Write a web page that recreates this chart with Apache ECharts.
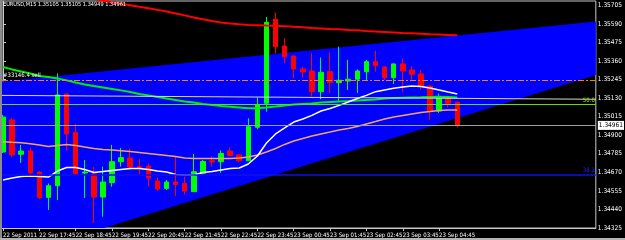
<!DOCTYPE html>
<html><head><meta charset="utf-8">
<style>html,body{margin:0;padding:0;background:#000;overflow:hidden}#c{width:625px;height:240px;}</style>
<script src="https://cdn.jsdelivr.net/npm/echarts@6/dist/echarts.min.js"></script>
</head><body><div id="c"></div><script>
const title = 'EURUSD,M15 1.35105 1.35105 1.34949 1.34961';
const barTimes = ['22 Sep 16:45','22 Sep 17:00','22 Sep 17:15','22 Sep 17:30','22 Sep 17:45','22 Sep 18:00','22 Sep 18:15','22 Sep 18:30','22 Sep 18:45','22 Sep 19:00','22 Sep 19:15','22 Sep 19:30','22 Sep 19:45','22 Sep 20:00','22 Sep 20:15','22 Sep 20:30','22 Sep 20:45','22 Sep 21:00','22 Sep 21:15','22 Sep 21:30','22 Sep 21:45','22 Sep 22:00','22 Sep 22:15','22 Sep 22:30','22 Sep 22:45','22 Sep 23:00','22 Sep 23:15','22 Sep 23:30','22 Sep 23:45','23 Sep 00:00','23 Sep 00:15','23 Sep 00:30','23 Sep 00:45','23 Sep 01:00','23 Sep 01:15','23 Sep 01:30','23 Sep 01:45','23 Sep 02:00','23 Sep 02:15','23 Sep 02:30','23 Sep 02:45','23 Sep 03:00','23 Sep 03:15','23 Sep 03:30','23 Sep 03:45','23 Sep 04:00','23 Sep 04:15','23 Sep 04:30','23 Sep 04:45','23 Sep 05:00','23 Sep 05:15'];
const opens  = [1.34796,1.34995,1.34782,1.34802,1.34672,1.34515,1.34587,1.35156,1.34916,1.34666,1.34660,1.34517,1.34606,1.34736,1.34759,1.34705,1.34709,1.34616,1.34570,1.34610,1.34601,1.34550,1.34664,1.34742,1.34736,1.34802,1.34778,1.34742,1.34949,1.35098,1.35619,1.35453,1.35391,1.35311,1.35298,1.35170,1.35294,1.35226,1.35236,1.35247,1.35294,1.35356,1.35323,1.35257,1.35342,1.35305,1.35280,1.35205,1.35050,1.35128,1.35105];
const closes = [1.35013,1.34778,1.34802,1.34666,1.34514,1.34587,1.35150,1.34908,1.34660,1.34672,1.34517,1.34610,1.34736,1.34761,1.34703,1.34695,1.34635,1.34567,1.34610,1.34595,1.34554,1.34674,1.34737,1.34734,1.34787,1.34775,1.34742,1.34953,1.35088,1.35600,1.35449,1.35387,1.35311,1.35292,1.35170,1.35290,1.35226,1.35241,1.35247,1.35298,1.35356,1.35331,1.35257,1.35342,1.35298,1.35278,1.35205,1.35050,1.35131,1.35098,1.34961];
const lows   = [1.34790,1.34765,1.34728,1.34651,1.34505,1.34437,1.34499,1.34804,1.34657,1.34511,1.34356,1.34395,1.34581,1.34706,1.34685,1.34660,1.34582,1.34554,1.34561,1.34523,1.34533,1.34548,1.34654,1.34706,1.34666,1.34771,1.34734,1.34740,1.34937,1.35046,1.35408,1.35346,1.35253,1.35258,1.35140,1.35123,1.35160,1.35112,1.35181,1.35162,1.35240,1.35294,1.35243,1.35218,1.35165,1.35243,1.35184,1.34995,1.35038,1.35073,1.34949];
const highs  = [1.35026,1.35007,1.34840,1.34824,1.34678,1.34601,1.35283,1.35159,1.34970,1.34747,1.34703,1.34705,1.34840,1.34821,1.34818,1.34753,1.34725,1.34638,1.34623,1.34767,1.34644,1.34784,1.34747,1.34771,1.34806,1.34824,1.34784,1.35005,1.35135,1.35633,1.35660,1.35501,1.35395,1.35325,1.35408,1.35382,1.35414,1.35449,1.35367,1.35308,1.35367,1.35424,1.35326,1.35345,1.35377,1.35329,1.35305,1.35209,1.35159,1.35137,1.35105];
const maWhite  = [1.34623,1.34635,1.34644,1.34647,1.34644,1.34641,1.34678,1.34700,1.34700,1.34688,1.34669,1.34675,1.34682,1.34688,1.34694,1.34694,1.34688,1.34678,1.34672,1.34657,1.34654,1.34654,1.34669,1.34675,1.34685,1.34694,1.34697,1.34722,1.34771,1.34852,1.34908,1.34945,1.34982,1.35001,1.35023,1.35050,1.35066,1.35085,1.35106,1.35128,1.35147,1.35170,1.35181,1.35191,1.35199,1.35205,1.35202,1.35193,1.35181,1.35168,1.35156];
const maOrange = [1.34860,1.34856,1.34853,1.34847,1.34840,1.34830,1.34837,1.34843,1.34837,1.34827,1.34818,1.34812,1.34809,1.34804,1.34799,1.34793,1.34787,1.34781,1.34775,1.34768,1.34759,1.34756,1.34756,1.34756,1.34756,1.34756,1.34759,1.34765,1.34778,1.34796,1.34818,1.34843,1.34864,1.34880,1.34895,1.34908,1.34920,1.34933,1.34942,1.34954,1.34970,1.34985,1.35001,1.35013,1.35023,1.35032,1.35041,1.35047,1.35054,1.35057,1.35057];
const maGreen  = [1.35323,1.35308,1.35295,1.35283,1.35267,1.35261,1.35252,1.35240,1.35227,1.35215,1.35205,1.35196,1.35187,1.35178,1.35168,1.35156,1.35147,1.35137,1.35128,1.35119,1.35109,1.35103,1.35094,1.35088,1.35081,1.35077,1.35072,1.35067,1.35067,1.35072,1.35078,1.35085,1.35091,1.35094,1.35097,1.35103,1.35106,1.35109,1.35112,1.35116,1.35119,1.35122,1.35128,1.35131,1.35133,1.35134,1.35135,1.35137,1.35138,1.35137,1.35134];
const maRed    = [1.35838,1.35829,1.35819,1.35810,1.35801,1.35790,1.35781,1.35772,1.35762,1.35753,1.35744,1.35734,1.35724,1.35715,1.35706,1.35696,1.35687,1.35677,1.35667,1.35655,1.35643,1.35630,1.35619,1.35608,1.35599,1.35593,1.35588,1.35584,1.35582,1.35580,1.35579,1.35576,1.35572,1.35569,1.35565,1.35562,1.35559,1.35557,1.35553,1.35550,1.35546,1.35543,1.35540,1.35537,1.35534,1.35532,1.35529,1.35526,1.35524,1.35522,1.35520];
const channelX = [-0.11, 65.25];
const channelUpper = [1.35233, 1.35605];
const channelLower = [1.34128, 1.35274];
const trendLineY = [1.35147, 1.35123];
const bidPrice = 1.34961, sellPrice = 1.35245, fibo50 = 1.35090, fibo382 = 1.34658;
const sellLabel = '#33146.4 sell';
const priceTicks = [1.34325,1.34440,1.34555,1.34670,1.34785,1.34900,1.35015,1.35130,1.35245,1.35360,1.35475,1.35590,1.35705];
const timeTickBars = [0,4,8,12,16,20,24,28,32,36,40,44,48];
const timeTickLabels = ['22 Sep 2011','22 Sep 17:45','22 Sep 18:45','22 Sep 19:45','22 Sep 20:45','22 Sep 21:45','22 Sep 22:45','22 Sep 23:45','23 Sep 00:45','23 Sep 01:45','23 Sep 02:45','23 Sep 03:45','23 Sep 04:45'];

const FONT = "'Liberation Sans Narrow','DejaVu Sans Condensed','Liberation Sans',sans-serif";
const idx = barTimes.map((t, i) => i);
const candleData = idx.map(i => [i, opens[i], closes[i], lows[i], highs[i]]);
const lineOf = arr => idx.map(i => [i, arr[i]]);

const chart = echarts.init(document.getElementById('c'), null, {renderer: 'canvas'});
chart.setOption({
  animation: false,
  backgroundColor: '#000',
  title: {text: title, left: 3, top: 2, padding: 0, textStyle: {color: '#fff', fontSize: 5.6, fontWeight: 'normal', fontFamily: FONT}},
  graphic: [
    {type: 'rect', left: 0, top: 0, shape: {width: 2, height: 240}, style: {fill: '#8c8c8c'}, silent: true, z: 100},
    {type: 'rect', left: 0, top: 238, shape: {width: 625, height: 2}, style: {fill: '#b4b4b4'}, silent: true, z: 100}
  ],
  grid: {left: 2, right: 23, top: 1, bottom: 12, show: true, borderColor: '#c8c8c8', borderWidth: 1, backgroundColor: 'transparent'},
  xAxis: {
    type: 'value', min: channelX[0], max: channelX[1],
    splitLine: {show: false},
    axisLine: {show: true, lineStyle: {color: '#c8c8c8'}},
    axisTick: {show: true, customValues: timeTickBars, length: 3, lineStyle: {color: '#c8c8c8'}},
    axisLabel: {customValues: timeTickBars, showMinLabel: true, showMaxLabel: true, color: '#fff', fontSize: 6, fontFamily: FONT, align: 'left', margin: 4,
      formatter: v => timeTickLabels[timeTickBars.indexOf(Math.round(v))] || ''}
  },
  yAxis: {
    type: 'value', position: 'right', min: 1.34325, max: 1.35732, scale: true,
    splitLine: {show: false},
    axisLine: {show: true, lineStyle: {color: '#c8c8c8'}},
    axisTick: {show: true, customValues: priceTicks, length: 3, lineStyle: {color: '#c8c8c8'}},
    axisLabel: {customValues: priceTicks, showMinLabel: true, showMaxLabel: true, color: '#fff', fontSize: 6.5, fontFamily: FONT, margin: 2,
      formatter: v => v.toFixed(5)}
  },
  series: [
    {
      type: 'custom', name: 'channel', clip: true, silent: true, z: 1,
      data: [[channelX[0], channelUpper[0]]],
      renderItem: (params, api) => ({
        type: 'polygon',
        shape: {points: [
          api.coord([channelX[0], channelUpper[0]]),
          api.coord([channelX[1], channelUpper[1]]),
          api.coord([channelX[1], channelLower[1]]),
          api.coord([channelX[0], channelLower[0]])
        ]},
        style: {fill: '#0000ff', stroke: null}
      })
    },
    {
      type: 'candlestick', name: 'EURUSD', z: 2, barWidth: 5, silent: true,
      data: candleData,
      itemStyle: {color: '#00ff00', color0: '#ff0000', borderColor: '#00ff00', borderColor0: '#ff0000', borderWidth: 1}
    },
    {type: 'line', name: 'MA red', z: 3, data: lineOf(maRed), showSymbol: false, clip: true, silent: true, lineStyle: {color: '#ff0000', width: 2}},
    {type: 'line', name: 'MA green', z: 3, data: lineOf(maGreen), showSymbol: false, clip: true, silent: true, lineStyle: {color: '#00ee00', width: 2}},
    {type: 'line', name: 'MA orange', z: 3, data: lineOf(maOrange), showSymbol: false, clip: true, silent: true, lineStyle: {color: '#f4a460', width: 1.5}},
    {type: 'line', name: 'MA white', z: 3, data: lineOf(maWhite), showSymbol: false, clip: true, silent: true, lineStyle: {color: '#ffffff', width: 1.5}},
    {
      type: 'custom', name: 'sell', clip: true, silent: true, z: 4,
      data: [[channelX[0], sellPrice]],
      renderItem: (params, api) => {
        const a = api.coord([channelX[0], sellPrice]);
        const b = api.coord([channelX[1], sellPrice]);
        return {type: 'line', shape: {x1: a[0], y1: Math.round(a[1]) + 0.5, x2: b[0], y2: Math.round(b[1]) + 0.5},
          style: {stroke: '#ff8000', lineWidth: 1, lineDash: [6, 2, 2, 2], fill: null}};
      }
    },
    {
      type: 'line', name: 'trend', z: 4, showSymbol: false, clip: true, silent: true,
      data: [[channelX[0], trendLineY[0]], [channelX[1], trendLineY[1]]],
      lineStyle: {color: '#d8d8d8', width: 1},
      markLine: {
        silent: true, symbol: 'none', animation: false, precision: 5,
        data: [
          {yAxis: bidPrice, lineStyle: {color: '#a0a0a0', width: 1, type: 'solid'},
            label: {show: true, position: 'end', formatter: bidPrice.toFixed(5), color: '#000', backgroundColor: '#fff', fontSize: 6.5, fontFamily: FONT, padding: [1, 1], distance: 2}},
          {yAxis: sellPrice, lineStyle: {color: 'rgba(0,0,0,0)', width: 1, type: 'solid'},
            label: {show: true, position: 'insideStartTop', formatter: sellLabel, color: '#fff', fontSize: 6, fontFamily: FONT, distance: 1}},
          {yAxis: fibo50, lineStyle: {color: '#66dd00', width: 1, type: 'solid'},
            label: {show: true, position: 'insideEndTop', formatter: '50.0', color: '#99ee00', fontSize: 6, fontFamily: FONT, distance: 1}},
          {yAxis: fibo382, lineStyle: {color: '#1010e8', width: 1.5, type: 'solid'},
            label: {show: true, position: 'insideEndTop', formatter: '38.2', color: '#2020ff', fontSize: 6, fontFamily: FONT, distance: 1}}
        ]
      }
    }
  ]
});
</script></body></html>
